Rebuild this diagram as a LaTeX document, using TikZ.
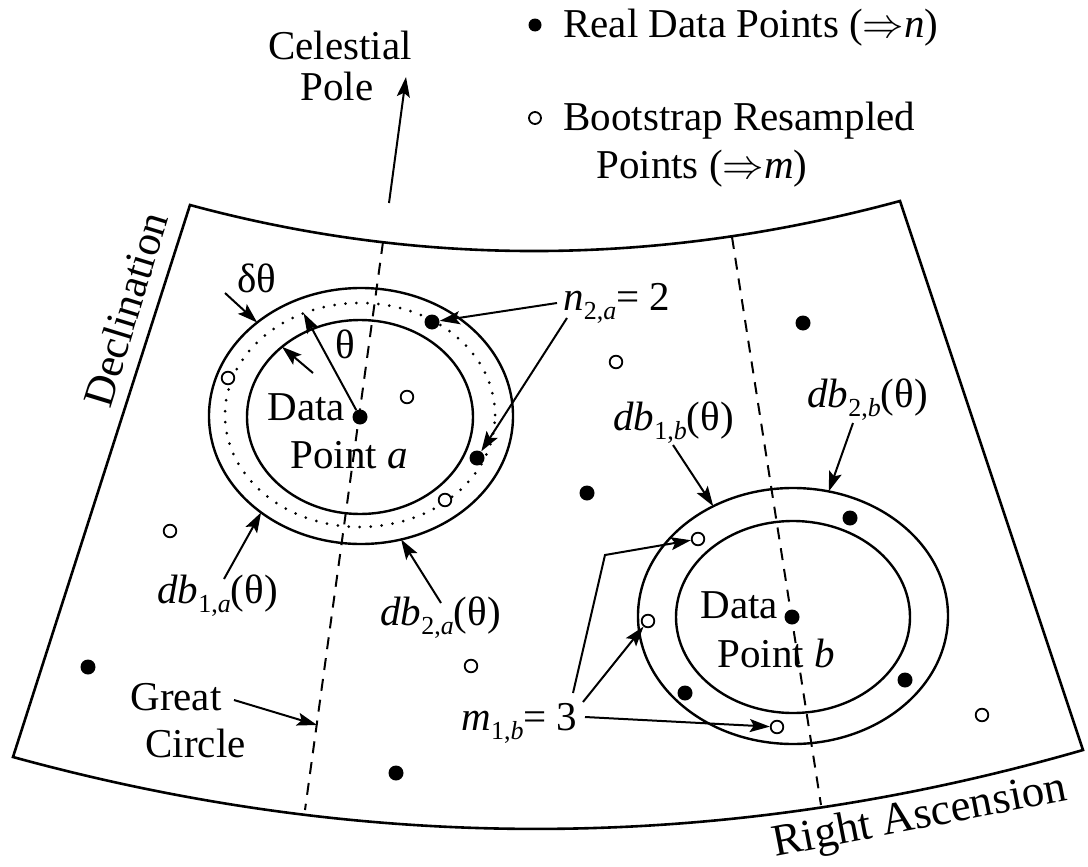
\documentclass[tikz,border=0pt]{standalone}
\usepackage{fontspec}
\setmainfont{Liberation Serif}
\usetikzlibrary{arrows.meta,shapes.geometric}
\newcommand{\lblfont}{\fontsize{20.5pt}{24pt}\selectfont}
\newcommand{\axfont}{\fontsize{21.5pt}{26pt}\selectfont}
\newcommand{\subsc}[1]{\raisebox{-4.5pt}{\fontsize{13pt}{13pt}\selectfont #1}}

\begin{document}
\begin{tikzpicture}[x=0.5pt, y=-0.5pt,
    real/.style={circle, fill=black, inner sep=0pt, minimum size=7.5pt},
    boot/.style={circle, draw=black, fill=white, line width=0.9pt, inner sep=0pt, minimum size=6.3pt},
    ring/.style={ellipse, draw, line width=1.2pt, inner sep=0pt, outer sep=0pt},
    dotring/.style={ellipse, draw, line width=1.5pt, line cap=round, dash pattern=on 0pt off 5.5pt, inner sep=0pt, outer sep=0pt},
    meridian/.style={line width=1pt, dash pattern=on 6pt off 4.5pt},
    lbl/.style={font=\lblfont, inner sep=0pt, anchor=base west},
    ptr/.style={-{Stealth[length=10pt, width=6.5pt, inset=2pt]}, line width=1pt},
]
    \useasboundingbox (0,0) rectangle (1088,867);

    % sky patch and great circles
    \draw[line width=1.3pt] (190,205) .. controls (423,268) and (660,266) .. (900,201)
        -- (1083,750) .. controls (726,853) and (370,855) .. (13,757) -- cycle;
    \coordinate (mAtop) at (383,242);
    \coordinate (mAbot) at (305,810);
    \coordinate (mBtop) at (732,237);
    \coordinate (mBbot) at (821,805);
    \draw[meridian] (mAtop) -- (mAbot);
    \draw[meridian] (mBtop) -- (mBbot);

    % annuli
    \node[ring, minimum width=152pt, minimum height=128pt] (outA) at (361,416) {};
    \node[ring, minimum width=113pt, minimum height=97pt] (inA) at (360,417) {};
    \node[dotring, minimum width=135pt, minimum height=112pt] (dotA) at (360,415) {};
    \node[ring, minimum width=155pt, minimum height=128pt] (outB) at (793,616) {};
    \node[ring, minimum width=117pt, minimum height=96pt] (inB) at (793,617) {};

    % points
    \node[real] (ptA) at (360,417) {};
    \node[real] (ptB) at (792,617) {};
    \node[real] (nA1) at (432,322) {};
    \node[real] (nA2) at (477,458) {};
    \foreach \p [count=\i] in {(803,323),(587,493),(88,667),(396,773),(850,518),(905,680),(685,693)}
        \node[real] (real\i) at \p {};
    \node[boot] (mB1) at (698,539) {};
    \node[boot] (mB2) at (648,621) {};
    \node[boot] (mB3) at (777,727) {};
    \foreach \p [count=\i] in {(228,378),(407,397),(445,500),(170,531),(616,362),(471,666),(982,715)}
        \node[boot] (boot\i) at \p {};

    % legend
    \node[real, minimum size=6.5pt] (legreal) at (535,25) {};
    \node[lbl] (legrealtxt) at (563,37) {Real Data Points ($\Rightarrow$\textit{n})};
    \node[boot, minimum size=6pt] (legboot) at (535,118) {};
    \node[lbl] (legboottxt) at (563,130) {Bootstrap Resampled};
    \node[lbl] (legboottxtb) at (596,178) {Points ($\Rightarrow$\textit{m})};

    % labels
    \node[lbl, anchor=base] (cel) at (340,60) {Celestial};
    \node[lbl, anchor=base] (pole) at (337,100) {Pole};
    \node[lbl, font=\axfont, rotate=73] (decl) at (110,410) {Declination};
    \node[lbl, font=\fontsize{22.5pt}{27pt}\selectfont, rotate=11] (ra) at (775,857) {Right Ascension};
    \node[lbl] (dtheta) at (237,292) {δθ};
    \node[lbl] (theta) at (335,358) {θ};
    \node[lbl] (dataA) at (267,420) {Data};
    \node[lbl] (pointA) at (290,468) {Point \textit{a}};
    \node[lbl] (dataB) at (700,618) {Data};
    \node[lbl] (pointB) at (717,667) {Point \textit{b}};
    \node[lbl] (nlab) at (563,310) {\textit{n}\subsc{2,\textit{a}}= 2};
    \node[lbl] (mlab) at (461,730) {\textit{m}\subsc{1,\textit{b}}= 3};
    \node[lbl] (db1a) at (157,603) {\textit{db}\subsc{1,\textit{a}}(θ)};
    \node[lbl] (db2a) at (380,625) {\textit{db}\subsc{2,\textit{a}}(θ)};
    \node[lbl] (db1b) at (613,430) {\textit{db}\subsc{1,\textit{b}}(θ)};
    \node[lbl] (db2b) at (807,407) {\textit{db}\subsc{2,\textit{b}}(θ)};
    \node[lbl] (great) at (130,710) {Great};
    \node[lbl] (circ) at (145,757) {Circle};

    % pointers
    \coordinate (poletail) at (389,203);
    \coordinate (poletip) at (406,77);
    \draw[ptr] (poletail) -- (poletip);
    \coordinate (dthtail) at (225,293);
    \draw[ptr] (dthtail) -- (outA.138);
    \coordinate (dthtailb) at (313,373);
    \draw[ptr] (dthtailb) -- (inA.138);
    \draw[ptr] (ptA) -- (dotA.119);
    \coordinate (ntail) at (557,303);
    \draw[ptr] (ntail) -- (nA1);
    \coordinate (ntailb) at (567,318);
    \draw[ptr] (ntailb) -- (nA2);
    \coordinate (db1atail) at (224,579);
    \draw[ptr] (db1atail) -- (outA.224);
    \coordinate (db2atail) at (441,603);
    \draw[ptr] (db2atail) -- (outA.288);
    \coordinate (db1btail) at (673,445);
    \draw[ptr] (db1btail) -- (outB.126);
    \coordinate (db2btail) at (853,423);
    \draw[ptr] (db2btail) -- (outB.74);
    \coordinate (gctail) at (234,700);
    \coordinate (gcmark) at (317,725);
    \draw[ptr] (gctail) -- (gcmark);
    \coordinate (mtail) at (573,693);
    \coordinate (mbend) at (605,555);
    \draw[ptr] (mtail) -- (mbend) -- (mB1);
    \coordinate (mtailb) at (583,702);
    \draw[ptr] (mtailb) -- (mB2);
    \coordinate (mtailc) at (585,717);
    \draw[ptr] (mtailc) -- (mB3);
\end{tikzpicture}
\end{document}
